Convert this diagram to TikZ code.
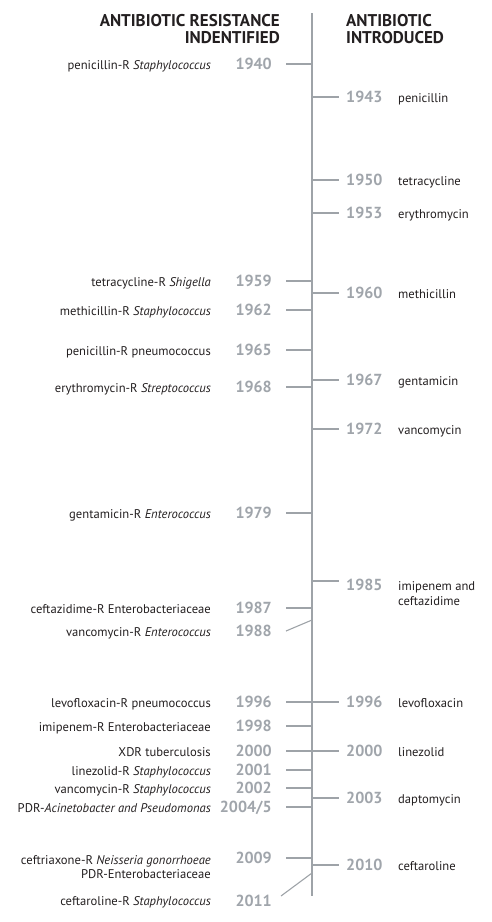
\documentclass[tikz,border=0pt]{standalone}
\usepackage{fontspec}
\setmainfont{PT Sans}
\definecolor{ink}{HTML}{231F20}
\definecolor{yeargray}{HTML}{A0A5AB}
\definecolor{linegray}{HTML}{9EA3A8}
\begin{document}
\begin{tikzpicture}[
            x=1pt, y=-1pt,
            heading/.style={font=\fontsize{17}{17}\selectfont\bfseries, text=ink, inner sep=0pt},
            year/.style={font=\fontsize{16}{16}\selectfont\bfseries, text=yeargray, inner sep=0pt, text height=11.5pt, text depth=0pt},
            drug/.style={font=\fontsize{12.6}{14.5}\selectfont, text=ink, inner sep=0pt, text height=8.6pt, text depth=0pt},
            drug_two/.style={font=\fontsize{12.6}{14.8}\selectfont, text=ink, inner sep=0pt},
            line/.style={draw=linegray, line width=1.1pt}
        ]
        \useasboundingbox (0,0) rectangle (491,922);

        % Headings
        \node[heading, align=right, anchor=east] (head_res) at (280,29) {ANTIBIOTIC RESISTANCE\\INDENTIFIED};
        \node[heading, align=left, anchor=west] (head_intro) at (346,29) {ANTIBIOTIC\\INTRODUCED};

        % Axis
        \coordinate (axis_top) at (312,13);
        \coordinate (axis_bot) at (312,896);
        \draw[line] (axis_top) -- (axis_bot);

        % Left side - resistance identified
        \node[year, anchor=east] (res_1940) at (272,64) {1940};
        \node[drug, anchor=east] (res_1940_lbl) at (211,65) {penicillin-R \textit{Staphylococcus}};
        \node[year, anchor=east] (res_1959) at (272,281) {1959};
        \node[drug, anchor=east] (res_1959_lbl) at (211,282) {tetracycline-R \textit{Shigella}};
        \node[year, anchor=east] (res_1962) at (272,310) {1962};
        \node[drug, anchor=east] (res_1962_lbl) at (211,311) {methicillin-R \textit{Staphylococcus}};
        \node[year, anchor=east] (res_1965) at (272,350) {1965};
        \node[drug, anchor=east] (res_1965_lbl) at (211,351) {penicillin-R pneumococcus};
        \node[year, anchor=east] (res_1968) at (272,387) {1968};
        \node[drug, anchor=east] (res_1968_lbl) at (211,388) {erythromycin-R \textit{Streptococcus}};
        \node[year, anchor=east] (res_1979) at (272,513) {1979};
        \node[drug, anchor=east] (res_1979_lbl) at (211,514) {gentamicin-R \textit{Enterococcus}};
        \node[year, anchor=east] (res_1987) at (272,608) {1987};
        \node[drug, anchor=east] (res_1987_lbl) at (211,609) {ceftazidime-R Enterobacteriaceae};
        \node[year, anchor=east] (res_1988) at (272,631) {1988};
        \node[drug, anchor=east] (res_1988_lbl) at (211,632) {vancomycin-R \textit{Enterococcus}};
        \node[year, anchor=east] (res_1996) at (272,702) {1996};
        \node[drug, anchor=east] (res_1996_lbl) at (211,703) {levofloxacin-R pneumococcus};
        \node[year, anchor=east] (res_1998) at (272,726) {1998};
        \node[drug, anchor=east] (res_1998_lbl) at (211,727) {imipenem-R Enterobacteriaceae};
        \node[year, anchor=east] (res_2000) at (272,751) {2000};
        \node[drug, anchor=east] (res_2000_lbl) at (211,752) {XDR tuberculosis};
        \node[year, anchor=east] (res_2001) at (272,770) {2001};
        \node[drug, anchor=east] (res_2001_lbl) at (211,771) {linezolid-R \textit{Staphylococcus}};
        \node[year, anchor=east] (res_2002) at (272,788) {2002};
        \node[drug, anchor=east] (res_2002_lbl) at (211,789) {vancomycin-R \textit{Staphylococcus}};
        \node[year, anchor=east] (res_2004) at (272,807) {2004/5};
        \node[drug, anchor=east] (res_2004_lbl) at (211,808) {PDR-\textit{Acinetobacter and Pseudomonas}};
        \node[year, anchor=east] (res_2009) at (272,858) {2009};
        \node[drug_two, anchor=east, align=right] (res_2009_lbl) at (211,867) {ceftriaxone-R \textit{Neisseria gonorrhoeae}\\PDR-Enterobacteriaceae};
        \node[year, anchor=east] (res_2011) at (272,901) {2011};
        \node[drug, anchor=east] (res_2011_lbl) at (211,901) {ceftaroline-R \textit{Staphylococcus}};

        % Right side - antibiotic introduced
        \node[year, anchor=west] (intro_1943) at (346,97) {1943};
        \node[drug, anchor=west] (intro_1943_lbl) at (398,98) {penicillin};
        \node[year, anchor=west] (intro_1950) at (346,180) {1950};
        \node[drug, anchor=west] (intro_1950_lbl) at (398,181) {tetracycline};
        \node[year, anchor=west] (intro_1953) at (346,213) {1953};
        \node[drug, anchor=west] (intro_1953_lbl) at (398,214) {erythromycin};
        \node[year, anchor=west] (intro_1960) at (346,293) {1960};
        \node[drug, anchor=west] (intro_1960_lbl) at (398,294) {methicillin};
        \node[year, anchor=west] (intro_1967) at (346,380) {1967};
        \node[drug, anchor=west] (intro_1967_lbl) at (398,381) {gentamicin};
        \node[year, anchor=west] (intro_1972) at (346,429) {1972};
        \node[drug, anchor=west] (intro_1972_lbl) at (398,430) {vancomycin};
        \node[year, anchor=west] (intro_1985) at (346,585) {1985};
        \node[drug_two, anchor=west, align=left] (intro_1985_lbl) at (398,594) {imipenem and\\ceftazidime};
        \node[year, anchor=west] (intro_1996) at (346,702) {1996};
        \node[drug, anchor=west] (intro_1996_lbl) at (398,703) {levofloxacin};
        \node[year, anchor=west] (intro_2000) at (346,751) {2000};
        \node[drug, anchor=west] (intro_2000_lbl) at (398,752) {linezolid};
        \node[year, anchor=west] (intro_2003) at (346,798) {2003};
        \node[drug, anchor=west] (intro_2003_lbl) at (398,799) {daptomycin};
        \node[year, anchor=west] (intro_2010) at (346,865) {2010};
        \node[drug, anchor=west] (intro_2010_lbl) at (398,866) {ceftaroline};

        % Bent and shifted ticks
        \coordinate (kink_1988) at (312,620);
        \coordinate (kink_2011) at (312,873);
        \coordinate (foot_2011) at (281,896);
        \coordinate (tick_1985) at (312,581);
        \coordinate (tick_1985_end) at (339,581);

        % Ticks left
        \draw[line] ([xshift=14pt]res_1940.east) -- (res_1940 -| axis_top);
        \draw[line] ([xshift=14pt]res_1959.east) -- (res_1959 -| axis_top);
        \draw[line] ([xshift=14pt]res_1962.east) -- (res_1962 -| axis_top);
        \draw[line] ([xshift=14pt]res_1965.east) -- (res_1965 -| axis_top);
        \draw[line] ([xshift=14pt]res_1968.east) -- (res_1968 -| axis_top);
        \draw[line] ([xshift=14pt]res_1979.east) -- (res_1979 -| axis_top);
        \draw[line] ([xshift=14pt]res_1987.east) -- (res_1987 -| axis_top);
        \draw[line] ([xshift=14pt]res_1988.east) -- (kink_1988);
        \draw[line] ([xshift=14pt]res_1996.east) -- (res_1996 -| axis_top);
        \draw[line] ([xshift=14pt]res_1998.east) -- (res_1998 -| axis_top);
        \draw[line] ([xshift=14pt]res_2000.east) -- (res_2000 -| axis_top);
        \draw[line] ([xshift=14pt]res_2001.east) -- (res_2001 -| axis_top);
        \draw[line] ([xshift=14pt]res_2002.east) -- (res_2002 -| axis_top);
        \draw[line] ([xshift=14pt]res_2004.east) -- (res_2004 -| axis_top);
        \draw[line] ([xshift=14pt]res_2009.east) -- (res_2009 -| axis_top);
        \draw[line] (foot_2011) -- (kink_2011);

        % Ticks right
        \draw[line] (intro_1943 -| axis_top) -- ([xshift=-7pt]intro_1943.west);
        \draw[line] (intro_1950 -| axis_top) -- ([xshift=-7pt]intro_1950.west);
        \draw[line] (intro_1953 -| axis_top) -- ([xshift=-7pt]intro_1953.west);
        \draw[line] (intro_1960 -| axis_top) -- ([xshift=-7pt]intro_1960.west);
        \draw[line] (intro_1967 -| axis_top) -- ([xshift=-7pt]intro_1967.west);
        \draw[line] (intro_1972 -| axis_top) -- ([xshift=-7pt]intro_1972.west);
        \draw[line] (tick_1985) -- (tick_1985_end);
        \draw[line] (intro_1996 -| axis_top) -- ([xshift=-7pt]intro_1996.west);
        \draw[line] (intro_2000 -| axis_top) -- ([xshift=-7pt]intro_2000.west);
        \draw[line] (intro_2003 -| axis_top) -- ([xshift=-7pt]intro_2003.west);
        \draw[line] (intro_2010 -| axis_top) -- ([xshift=-7pt]intro_2010.west);

    \end{tikzpicture}
\end{document}
